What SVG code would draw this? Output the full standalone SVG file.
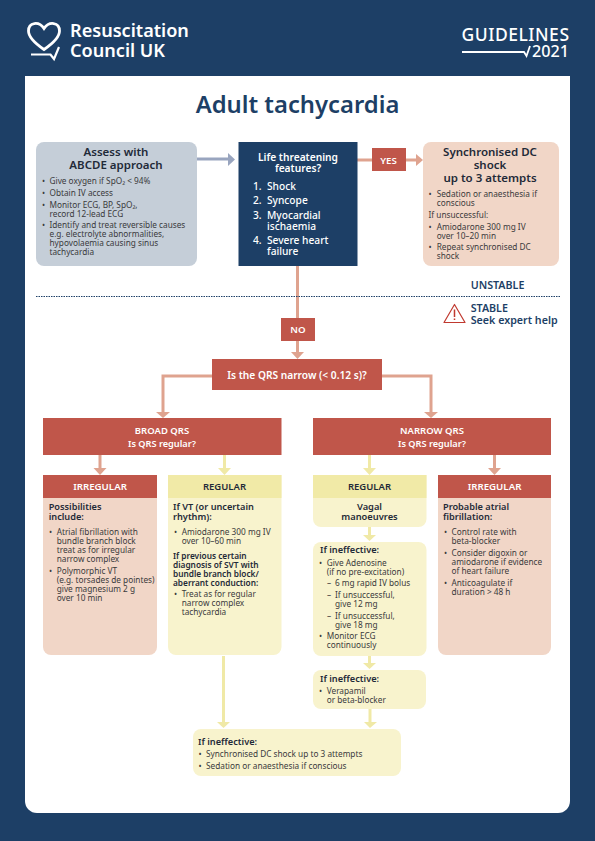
<svg xmlns="http://www.w3.org/2000/svg" width="595" height="841" viewBox="0 0 595 841">
<style>
text{font-family:"Noto Sans","Liberation Sans",sans-serif;font-size:8.25px;fill:#3a3a3c}
.h{font-size:11.5px;font-weight:600;fill:#1f2a38;text-anchor:middle}
.b{font-size:9.2px;font-weight:600;fill:#1f2a38}
.s{font-size:8.3px;font-weight:600;fill:#1f2a38}
.w{font-size:9.7px;font-weight:600;fill:#fff;text-anchor:middle}
.n{font-size:10.2px;font-weight:500;fill:#fff}
.k{font-size:9.5px;font-weight:600;fill:#1f2a38;text-anchor:middle}
.l{font-size:10.7px;font-weight:600;fill:#1d3f66}
.r{fill:#c0564a}.y{fill:#f8f3cd}.p{fill:#f1d6c7}.yh{fill:#f1eaa7}
.cp{stroke:#dfa38f;stroke-width:3;fill:none}.cy{stroke:#f0e9a6;stroke-width:3;fill:none}
.hp{fill:#dfa38f}.hy{fill:#f0e9a6}
.lg{fill:none;stroke:#fff}
</style>
<rect width="595" height="841" fill="#1d3f66"/>
<path d="M25 76H570V801a12 12 0 0 1-12 12H37a12 12 0 0 1-12-12Z" fill="#fff"/>
<g id="logo">
<path class="lg" stroke-width="2.8" d="M44 28.500C39 21 28.500 22 28.500 31C28.500 37.500 36 44 44 49.500C52 44 59.500 37.500 59.500 31C59.500 22 49 21 44 28.500Z"/>
<path class="lg" stroke-width="2.2" d="M31 54.500H50.500L54 59L59 47"/>
<text x="70" y="37" style="font-size:18.100px;font-weight:600;fill:#fff">Resuscitation</text>
<text x="70" y="56.500" style="font-size:18.100px;font-weight:600;fill:#fff">Council UK</text>
</g>
<g id="edition">
<text x="461.500" y="40.700" textLength="107.500" style="font-size:17.500px;font-weight:500;fill:#fff">GUIDELINES</text>
<text x="569" y="57" text-anchor="end" style="font-size:16.200px;font-weight:500;fill:#fff">2021</text>
<path class="lg" stroke-width="1.800" d="M462 52H524L526.500 56L530 46"/>
</g>
<text id="title" x="297.500" y="113" text-anchor="middle" style="font-size:23.800px;font-weight:600;fill:#1d3f66">Adult tachycardia</text>

<g id="connectors">
<path d="M197 159H230" stroke="#99a5bf" stroke-width="3" fill="none"/><path d="M228 153L235 159.500L228 166Z" fill="#99a5bf"/>
<path class="cp" d="M357 160H419"/><path class="hp" d="M416 154L423 160L416 166Z"/>
<path class="cp" d="M297.500 266V352"/><path class="hp" d="M291 352H304L297.500 359Z"/>
<path class="cp" d="M212 376H163V412"/><path class="hp" d="M156 412H170L163 418Z"/>
<path class="cp" d="M382 376H431V412"/><path class="hp" d="M424 412H438L431 418Z"/>
<path class="cp" d="M100 455V469"/><path class="hp" d="M93.500 468H106.500L100 475Z"/>
<path class="cy" d="M224.500 455V469"/><path class="hy" d="M218 468H231L224.500 475Z"/>
<path class="cy" d="M369.500 455V469"/><path class="hy" d="M363 468H376L369.500 475Z"/>
<path class="cp" d="M494.500 455V469"/><path class="hp" d="M488 468H501L494.500 475Z"/>
<path class="cy" d="M369.500 527V536"/><path class="hy" d="M363 535H376L369.500 541Z"/>
<path class="cy" d="M369.500 656V664"/><path class="hy" d="M363 663H376L369.500 669Z"/>
<path class="cy" d="M370 709V723"/><path class="hy" d="M364 722H377L370 728Z"/>
<path class="cy" d="M223.500 656V723"/><path class="hy" d="M217 722H230L223.500 728Z"/>
</g>
<path id="divider" d="M36 296.500H560" stroke="#1d3f66" stroke-width="1" stroke-dasharray="1.500 1" fill="none"/>

<g id="assess">
<rect x="36" y="142" width="161" height="124" rx="8" fill="#c5ced8"/>
<text class="h" x="116" y="156">Assess with</text>
<text class="h" x="116" y="169">ABCDE approach</text>
<text x="42" y="184">•</text><text x="49.500" y="184">Give oxygen if SpO₂ &lt; 94%</text>
<text x="42" y="196">•</text><text x="49.500" y="196">Obtain IV access</text>
<text x="42" y="207.700">•</text><text x="49.500" y="207.700">Monitor ECG, BP, SpO₂,</text>
<text x="49.500" y="216.700">record 12-lead ECG</text>
<text x="42" y="227.700">•</text><text x="49.500" y="227.700">Identify and treat reversible causes</text>
<text x="49.500" y="236.700">e.g. electrolyte abnormalities,</text>
<text x="49.500" y="245.700">hypovolaemia causing sinus</text>
<text x="49.500" y="255">tachycardia</text>
</g>
<g id="life">
<rect x="238.500" y="142" width="119" height="124" fill="#1d3f66"/>
<text x="298" y="161" text-anchor="middle" class="n" style="font-weight:600">Life threatening</text>
<text x="298" y="172" text-anchor="middle" class="n" style="font-weight:600">features?</text>
<text class="n" x="253" y="189.500">1.</text><text class="n" x="267" y="189.500">Shock</text>
<text class="n" x="253" y="203.700">2.</text><text class="n" x="267" y="203.700">Syncope</text>
<text class="n" x="253" y="218.700">3.</text><text class="n" x="267" y="218.700">Myocardial</text>
<text class="n" x="267" y="229.700">ischaemia</text>
<text class="n" x="253" y="244.300">4.</text><text class="n" x="267" y="244.300">Severe heart</text>
<text class="n" x="267" y="255.300">failure</text>
</g>
<g id="shock">
<rect x="423" y="142" width="136" height="124" rx="8" class="p"/>
<text class="h" x="490" y="156">Synchronised DC</text>
<text class="h" x="490" y="169">shock</text>
<text class="h" x="490" y="182">up to 3 attempts</text>
<text x="428.500" y="196.700">•</text><text x="436.700" y="196.700">Sedation or anaesthesia if</text>
<text x="436.700" y="206">conscious</text>
<text x="428.500" y="217.700">If unsuccessful:</text>
<text x="428.500" y="230">•</text><text x="436.700" y="230">Amiodarone 300 mg IV</text>
<text x="436.700" y="239">over 10–20 min</text>
<text x="428.500" y="250">•</text><text x="436.700" y="250">Repeat synchronised DC</text>
<text x="436.700" y="259">shock</text>
</g>
<g id="yes"><rect x="372" y="148" width="34" height="23" class="r"/><text class="w" x="388.500" y="164">YES</text></g>
<g id="unstable"><text class="l" x="470.700" y="289">UNSTABLE</text></g>
<g id="stable">
<path d="M454.500 304.500L465 322.500H444Z" fill="none" stroke="#c0392f" stroke-width="1.200" stroke-linejoin="round"/>
<path d="M454.500 309.500V317M454.500 318.500V320" stroke="#c0392f" stroke-width="1.500" fill="none"/>
<text class="l" x="470.700" y="312">STABLE</text>
<text class="l" x="470.700" y="323.500">Seek expert help</text>
</g>
<g id="no"><rect x="281" y="318" width="34" height="23" class="r"/><text class="w" x="298" y="333">NO</text></g>
<g id="question"><rect x="212" y="359" width="170" height="31" class="r"/><text class="w" x="297" y="379" style="font-size:10.200px">Is the QRS narrow (&lt; 0.12 s)?</text></g>
<g id="broad"><rect x="43" y="418" width="238.500" height="37" class="r"/><text class="w" x="162" y="434" style="font-size:9.500px">BROAD QRS</text><text class="w" x="162" y="446.700" style="font-size:9.200px">Is QRS regular?</text></g>
<g id="narrow"><rect x="313" y="418" width="238" height="37" class="r"/><text class="w" x="432" y="434" style="font-size:9.500px">NARROW QRS</text><text class="w" x="432" y="446.700" style="font-size:9.200px">Is QRS regular?</text></g>

<g id="broad-irregular">
<path d="M43 475H157V647a8 8 0 0 1-8 8H51a8 8 0 0 1-8-8Z" class="p"/>
<rect x="43" y="475" width="114" height="23" class="r"/>
<text class="w" x="100" y="489.700">IRREGULAR</text>
<text class="b" x="48.700" y="510">Possibilities</text><text class="b" x="48.700" y="520">include:</text>
<text x="49" y="535">•</text><text x="56.700" y="535">Atrial fibrillation with</text>
<text x="56.700" y="544">bundle branch block</text>
<text x="56.700" y="553">treat as for irregular</text>
<text x="56.700" y="562">narrow complex</text>
<text x="49" y="573.700">•</text><text x="56.700" y="573.700">Polymorphic VT</text>
<text x="56.700" y="583">(e.g. torsades de pointes)</text>
<text x="56.700" y="592">give magnesium 2 g</text>
<text x="56.700" y="601">over 10 min</text>
</g>
<g id="broad-regular">
<path d="M168 475H281.500V647a8 8 0 0 1-8 8H176a8 8 0 0 1-8-8Z" class="y"/>
<rect x="168" y="475" width="113.500" height="23" class="yh"/>
<text class="k" x="224.500" y="489.700">REGULAR</text>
<text class="b" x="173" y="510">If VT (or uncertain</text><text class="b" x="173" y="520">rhythm):</text>
<text x="174" y="535">•</text><text x="181.700" y="535">Amiodarone 300 mg IV</text>
<text x="181.700" y="544">over 10–60 min</text>
<text class="s" x="173" y="559">If previous certain</text>
<text class="s" x="173" y="568">diagnosis of SVT with</text>
<text class="s" x="173" y="577">bundle branch block/</text>
<text class="s" x="173" y="586">aberrant conduction:</text>
<text x="174" y="597">•</text><text x="181.700" y="597">Treat as for regular</text>
<text x="181.700" y="606">narrow complex</text>
<text x="181.700" y="615">tachycardia</text>
</g>
<g id="narrow-regular">
<path d="M313 475H426.500V519a8 8 0 0 1-8 8H321a8 8 0 0 1-8-8Z" class="y"/>
<rect x="313" y="475" width="113.500" height="23" class="yh"/>
<text class="k" x="369.500" y="489.700">REGULAR</text>
<text class="k" x="369.500" y="510" style="font-size:9.300px">Vagal</text><text class="k" x="369.500" y="520" style="font-size:9.300px">manoeuvres</text>
</g>
<g id="adenosine">
<rect x="313" y="542" width="113.500" height="114" rx="8" class="y"/>
<text class="b" x="320" y="553">If ineffective:</text>
<text x="319" y="565.700">•</text><text x="326.700" y="565.700">Give Adenosine</text>
<text x="326.700" y="575">(if no pre-excitation)</text>
<text x="327" y="586">–</text><text x="335" y="586">6 mg rapid IV bolus</text>
<text x="327" y="597.700">–</text><text x="335" y="597.700">If unsuccessful,</text>
<text x="335" y="606.700">give 12 mg</text>
<text x="327" y="619">–</text><text x="335" y="619">If unsuccessful,</text>
<text x="335" y="628">give 18 mg</text>
<text x="319" y="639">•</text><text x="326.700" y="639">Monitor ECG</text>
<text x="326.700" y="648">continuously</text>
</g>
<g id="verapamil">
<rect x="313" y="670" width="113" height="39" rx="8" class="y"/>
<text class="b" x="320" y="682">If ineffective:</text>
<text x="319" y="694">•</text><text x="326.700" y="694">Verapamil</text>
<text x="326.700" y="703">or beta-blocker</text>
</g>
<g id="narrow-irregular">
<path d="M438 475H551V647a8 8 0 0 1-8 8H446a8 8 0 0 1-8-8Z" class="p"/>
<rect x="438" y="475" width="113" height="23" class="r"/>
<text class="w" x="494.500" y="489.700">IRREGULAR</text>
<text class="b" x="443" y="510">Probable atrial</text><text class="b" x="443" y="520">fibrillation:</text>
<text x="444" y="535">•</text><text x="451.500" y="535">Control rate with</text>
<text x="451.500" y="544">beta-blocker</text>
<text x="444" y="555.700">•</text><text x="451.500" y="555.700">Consider digoxin or</text>
<text x="451.500" y="565">amiodarone if evidence</text>
<text x="451.500" y="574">of heart failure</text>
<text x="444" y="586">•</text><text x="451.500" y="586">Anticoagulate if</text>
<text x="451.500" y="595">duration &gt; 48 h</text>
</g>
<g id="dc-final">
<rect x="193" y="729" width="208" height="47" rx="8" class="y"/>
<text class="b" x="198" y="745">If ineffective:</text>
<text x="198.500" y="757">•</text><text x="206" y="757">Synchronised DC shock up to 3 attempts</text>
<text x="198.500" y="769">•</text><text x="206" y="769">Sedation or anaesthesia if conscious</text>
</g>
</svg>
